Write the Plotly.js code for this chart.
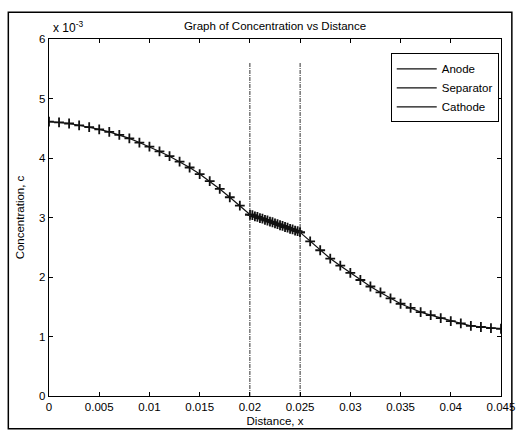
<!DOCTYPE html>
<html>
<head>
<meta charset="utf-8">
<script src="https://cdn.plot.ly/plotly-3.0.1.min.js"></script>
<style>html,body{margin:0;padding:0;background:#fff;}#chart{width:517px;height:434px;}</style>
</head>
<body>
<div id="chart"></div>
<script>
// Concentration values are in units of 1e-3 (axis shows "x 10^-3")
const anodeX = [0,0.001,0.002,0.003,0.004,0.005,0.006,0.007,0.008,0.009,0.010,0.011,0.012,0.013,0.014,0.015,0.016,0.017,0.018,0.019,0.020];
const anodeC = [4.61,4.60,4.58,4.55,4.52,4.48,4.44,4.39,4.33,4.26,4.19,4.11,4.03,3.94,3.84,3.73,3.61,3.48,3.34,3.20,3.05];
const sepX = [0.02,0.02025,0.0205,0.02075,0.021,0.02125,0.0215,0.02175,0.022,0.02225,0.0225,0.02275,0.023,0.02325,0.0235,0.02375,0.024,0.02425,0.0245,0.02475,0.025];
const sepC = [3.05,3.04,3.02,3.01,2.99,2.98,2.96,2.95,2.93,2.92,2.90,2.89,2.87,2.86,2.84,2.83,2.81,2.80,2.78,2.77,2.75];
const cathX = [0.025,0.026,0.027,0.028,0.029,0.030,0.031,0.032,0.033,0.034,0.035,0.036,0.037,0.038,0.039,0.040,0.041,0.042,0.043,0.044,0.045];
const cathC = [2.75,2.60,2.45,2.31,2.19,2.07,1.95,1.84,1.74,1.64,1.55,1.48,1.41,1.36,1.31,1.26,1.22,1.18,1.16,1.14,1.13];
const boundaryX = [0.02, 0.025];
const boundaryC = [0, 5.6];
const seriesNames = ['Anode','Separator','Cathode'];
const xTicks = [0,0.005,0.01,0.015,0.02,0.025,0.03,0.035,0.04,0.045];
const xTickText = ['0','0.005','0.01','0.015','0.02','0.025','0.03','0.035','0.04','0.045'];
const yTicks = [0,1,2,3,4,5,6];
const yTickText = ['0','1','2','3','4','5','6'];

const font = 'Liberation Sans, Arial, sans-serif';
const segs = [[anodeX, anodeC],[sepX, sepC],[cathX, cathC]];
const traces = [];
segs.forEach((s,i)=>{
  traces.push({x:s[0], y:s[1], type:'scatter', mode:'lines', name:seriesNames[i],
    line:{color:'#111', width:1.2}, hoverinfo:'skip'});
});
segs.forEach((s)=>{
  traces.push({x:s[0], y:s[1], type:'scatter', mode:'markers', showlegend:false,
    marker:{symbol:'cross-thin-open', size:7, color:'#111', line:{color:'#111', width:1.8}}, hoverinfo:'skip'});
});
boundaryX.forEach((bx)=>{
  traces.push({x:[bx,bx], y:boundaryC, type:'scatter', mode:'lines', showlegend:false,
    line:{color:'#333', width:1, dash:'4px,1px,1px,1px'}, hoverinfo:'skip'});
});

const layout = {
  width:517, height:434,
  margin:{l:49, r:16, t:39, b:38},
  paper_bgcolor:'#fff', plot_bgcolor:'#fff',
  font:{family:font, size:11, color:'#000'},
  title:{text:'Graph of Concentration vs Distance', x:0.5, xref:'paper', y:1, yref:'container', yanchor:'top', pad:{t:22}, font:{family:font, size:11.5, color:'#000'}},
  xaxis:{range:[0,0.045], tickvals:xTicks, ticktext:xTickText, ticks:'inside', ticklen:4, tickcolor:'#000',
    showline:true, linecolor:'#000', linewidth:1.2, mirror:'ticks', showgrid:false, zeroline:false,
    title:{text:'Distance, x', standoff:5, font:{family:font, size:11.5}}, tickfont:{family:font, size:11.5}},
  yaxis:{range:[0,6], tickvals:yTicks, ticktext:yTickText, ticks:'inside', ticklen:4, tickcolor:'#000',
    showline:true, linecolor:'#000', linewidth:1.2, mirror:'ticks', showgrid:false, zeroline:false,
    title:{text:'Concentration, c', standoff:12, font:{family:font, size:11.5}}, tickfont:{family:font, size:11.5}},
  legend:{x:0.995, xanchor:'right', y:0.96, yanchor:'top', bgcolor:'#fff', bordercolor:'#000', borderwidth:1,
    font:{family:font, size:11.5}, tracegroupgap:0, itemwidth:40},
  showlegend:true,
  annotations:[{text:'x 10<sup>-3</sup>', xref:'paper', yref:'paper', x:0.005, y:1.005, xanchor:'left', yanchor:'bottom',
    showarrow:false, font:{family:font, size:12}}],
  shapes:[{type:'rect', xref:'paper', yref:'paper', x0:-0.09, x1:1.024, y0:-0.092, y1:1.075,
    line:{color:'#000', width:1.5}, fillcolor:'rgba(0,0,0,0)', layer:'below'}]
};
Plotly.newPlot('chart', traces, layout, {displayModeBar:false, staticPlot:true});
</script>
</body>
</html>
